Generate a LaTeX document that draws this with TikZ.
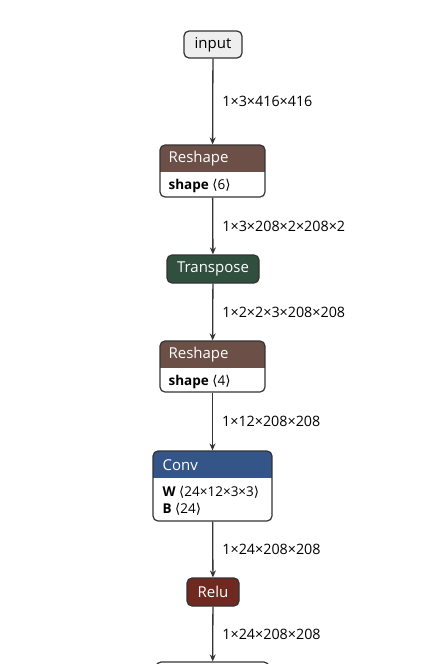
\documentclass[tikz,border=0pt]{standalone}
\usepackage{fontspec}
\setmainfont{Open Sans}
\newfontfamily\symf{DejaVu Sans}
\usepackage{tikz}
\usetikzlibrary{arrows.meta}

\definecolor{shapecol}{RGB}{108,79,71}
\definecolor{transcol}{RGB}{49,79,62}
\definecolor{layercol}{RGB}{51,85,136}
\definecolor{actcol}{RGB}{112,41,33}
\definecolor{inputcol}{RGB}{238,238,238}
\definecolor{linecol}{RGB}{51,51,51}

\newcommand\ang[1]{{\symf ⟨}#1{\symf ⟩}}

\begin{document}
\begin{tikzpicture}[x=1pt, y=-1pt,
    box/.style={draw=linecol, line width=1.2pt, rounded corners=5pt, fill=white, inner sep=0pt},
    headed/.style={box, path picture={\fill[#1, sharp corners] (path picture bounding box.north west) rectangle ([yshift=-27pt]path picture bounding box.north east);}},
    title/.style={anchor=west, inner sep=0pt, text=white, font=\fontsize{15}{17}\selectfont},
    attr/.style={anchor=west, inner sep=0pt, font=\fontsize{13.5}{15}\selectfont},
    edge/.style={draw=linecol, line width=1.3pt, -{Stealth[length=7pt, width=6pt]}},
    lbl/.style={right, inner sep=0pt, xshift=9pt, font=\fontsize{14.3}{17}\selectfont}]
  \useasboundingbox (0,0) rectangle (433,664);
  \clip (0,0) rectangle (433,664);

  \node[box, fill=inputcol, minimum width=58pt, minimum height=27pt,
        font=\fontsize{15}{17}\selectfont] (input) at (213,44.5) {input};

  \node[headed=shapecol, minimum width=105pt, minimum height=52pt] (reshapeA) at (212.5,171) {};
  \node[title] at ([xshift=9pt, yshift=-14.5pt]reshapeA.north west) {Reshape};
  \node[attr] at ([xshift=9pt, yshift=-41.5pt]reshapeA.north west) {\textbf{shape} \ang{6}};

  \node[box, fill=transcol, text=white, minimum width=92pt, minimum height=28pt,
        font=\fontsize{15}{17}\selectfont] (transpose) at (213,269) {Transpose};

  \node[headed=shapecol, minimum width=105pt, minimum height=51pt] (reshapeB) at (212.5,366.5) {};
  \node[title] at ([xshift=9pt, yshift=-14.5pt]reshapeB.north west) {Reshape};
  \node[attr] at ([xshift=9pt, yshift=-41.5pt]reshapeB.north west) {\textbf{shape} \ang{4}};

  \node[headed=layercol, minimum width=119pt, minimum height=70pt] (conv) at (212.5,486) {};
  \node[title] at ([xshift=10pt, yshift=-14.5pt]conv.north west) {Conv};
  \node[attr] at ([xshift=10pt, yshift=-41.5pt]conv.north west) {\textbf{W} \ang{24×12×3×3}};
  \node[attr] at ([xshift=10pt, yshift=-58.5pt]conv.north west) {\textbf{B} \ang{24}};

  \node[box, fill=actcol, text=white, minimum width=52pt, minimum height=28pt,
        font=\fontsize{15}{17}\selectfont] (relu) at (213,592) {Relu};

  % next op, cut off by the page edge
  \node[box, minimum width=113pt, minimum height=76pt] (next) at (212.5,700) {};

  \draw[edge] (input) -- (reshapeA) node[lbl, midway] {1×3×416×416};
  \draw[edge] (reshapeA) -- (transpose) node[lbl, midway] {1×3×208×2×208×2};
  \draw[edge] (transpose) -- (reshapeB) node[lbl, midway] {1×2×2×3×208×208};
  \draw[edge] (reshapeB) -- (conv) node[lbl, midway] {1×12×208×208};
  \draw[edge] (conv) -- (relu) node[lbl, midway] {1×24×208×208};
  \draw[edge] (relu) -- (next) node[lbl, midway] {1×24×208×208};
\end{tikzpicture}
\end{document}
